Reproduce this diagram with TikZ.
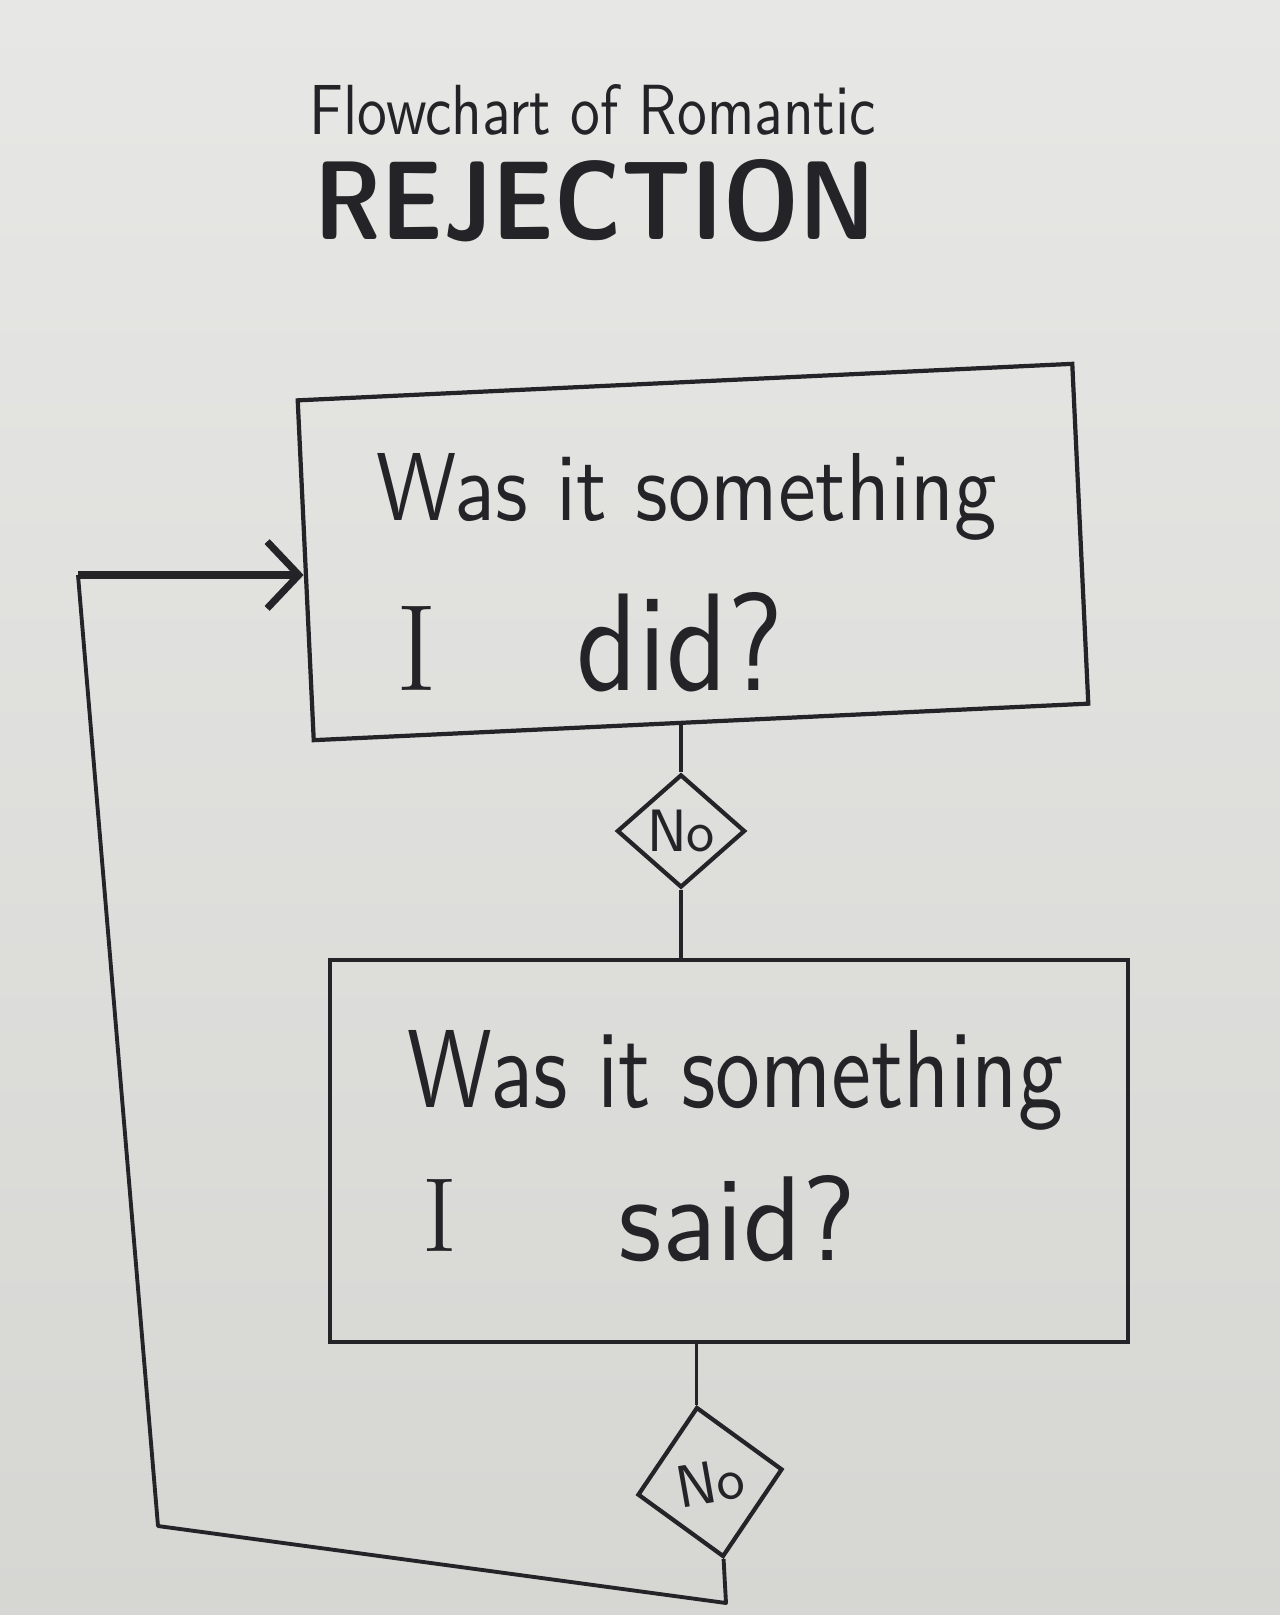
\documentclass[tikz,border=0pt]{standalone}
\usepackage{fontspec}
\usepackage{graphicx}
\usetikzlibrary{shapes.geometric,arrows.meta,calc}
\definecolor{ink}{RGB}{36,36,40}
\definecolor{paperA}{RGB}{231,231,229}
\definecolor{paperB}{RGB}{214,214,211}
\begin{document}
\begin{tikzpicture}[x=0.01cm,y=-0.01cm,
  box/.style={draw=ink,line width=1.2pt,rectangle,inner sep=0pt},
  dec/.style={draw=ink,line width=1.2pt,diamond,inner sep=0pt,text=ink,font=\sffamily\fontsize{17}{17}\selectfont},
  hand/.style={inner sep=0pt,anchor=base west,text=ink,font=\sffamily},
  link/.style={draw=ink,line width=1.1pt}]
\shade[top color=paperA,bottom color=paperB] (0,0) rectangle (1280,1615);
\useasboundingbox (0,0) rectangle (1280,1615);

% title
\node[hand] (t1) at (309,134) {\resizebox{5.66cm}{0.5cm}{Flowchart of Romantic}};
\node[hand] (t2) at (314,239) {\resizebox{5.6cm}{0.8cm}{\bfseries REJECTION}};

% boxes
\node[box,minimum width=7.75cm,minimum height=3.4cm,rotate=2.7] (q1) at (693,552) {};
\node[box,minimum width=7.97cm,minimum height=3.82cm] (q2) at (729,1151) {};

% box texts
\node[hand] (a1) at (376,520) {\resizebox{6.2cm}{0.67cm}{Was it something}};
\node[hand,font=\rmfamily\fontsize{35}{35}\selectfont] (a2) at (396,690) {I};
\node[hand] (a3) at (576,690) {\resizebox{2.07cm}{0.98cm}{did?}};

\node[hand] (b1) at (407,1107) {\resizebox{6.55cm}{0.77cm}{Was it something}};
\node[hand,font=\rmfamily\fontsize{30}{30}\selectfont] (b2) at (422,1251) {I};
\node[hand] (b3) at (618,1260) {\resizebox{2.37cm}{0.85cm}{said?}};

% decisions
\node[dec,minimum width=1.28cm,minimum height=1.13cm] (d1) at (681,831) {No};
\node[dec,minimum width=1.47cm,minimum height=1.52cm,rotate=10] (d2) at (710,1482) {No};

% connectors
\draw[link] (q1.south -| d1.north) -- (d1.north);
\draw[link] (d1.south) -- (d1.south |- q2.north);
\draw[link] (q2.south -| d2.north) -- (d2.north);

\coordinate (c1) at (726,1603);
\coordinate (c2) at (158,1526);
\coordinate (c3) at (78,575);
\draw[link,line join=round] (d2.south) -- (c1) -- (c2) -- (c3);
\draw[link,line width=2pt,-{Straight Barb[length=9pt,width=19pt]}] (c3) -- (c3 -| q1.west);
\end{tikzpicture}
\end{document}
